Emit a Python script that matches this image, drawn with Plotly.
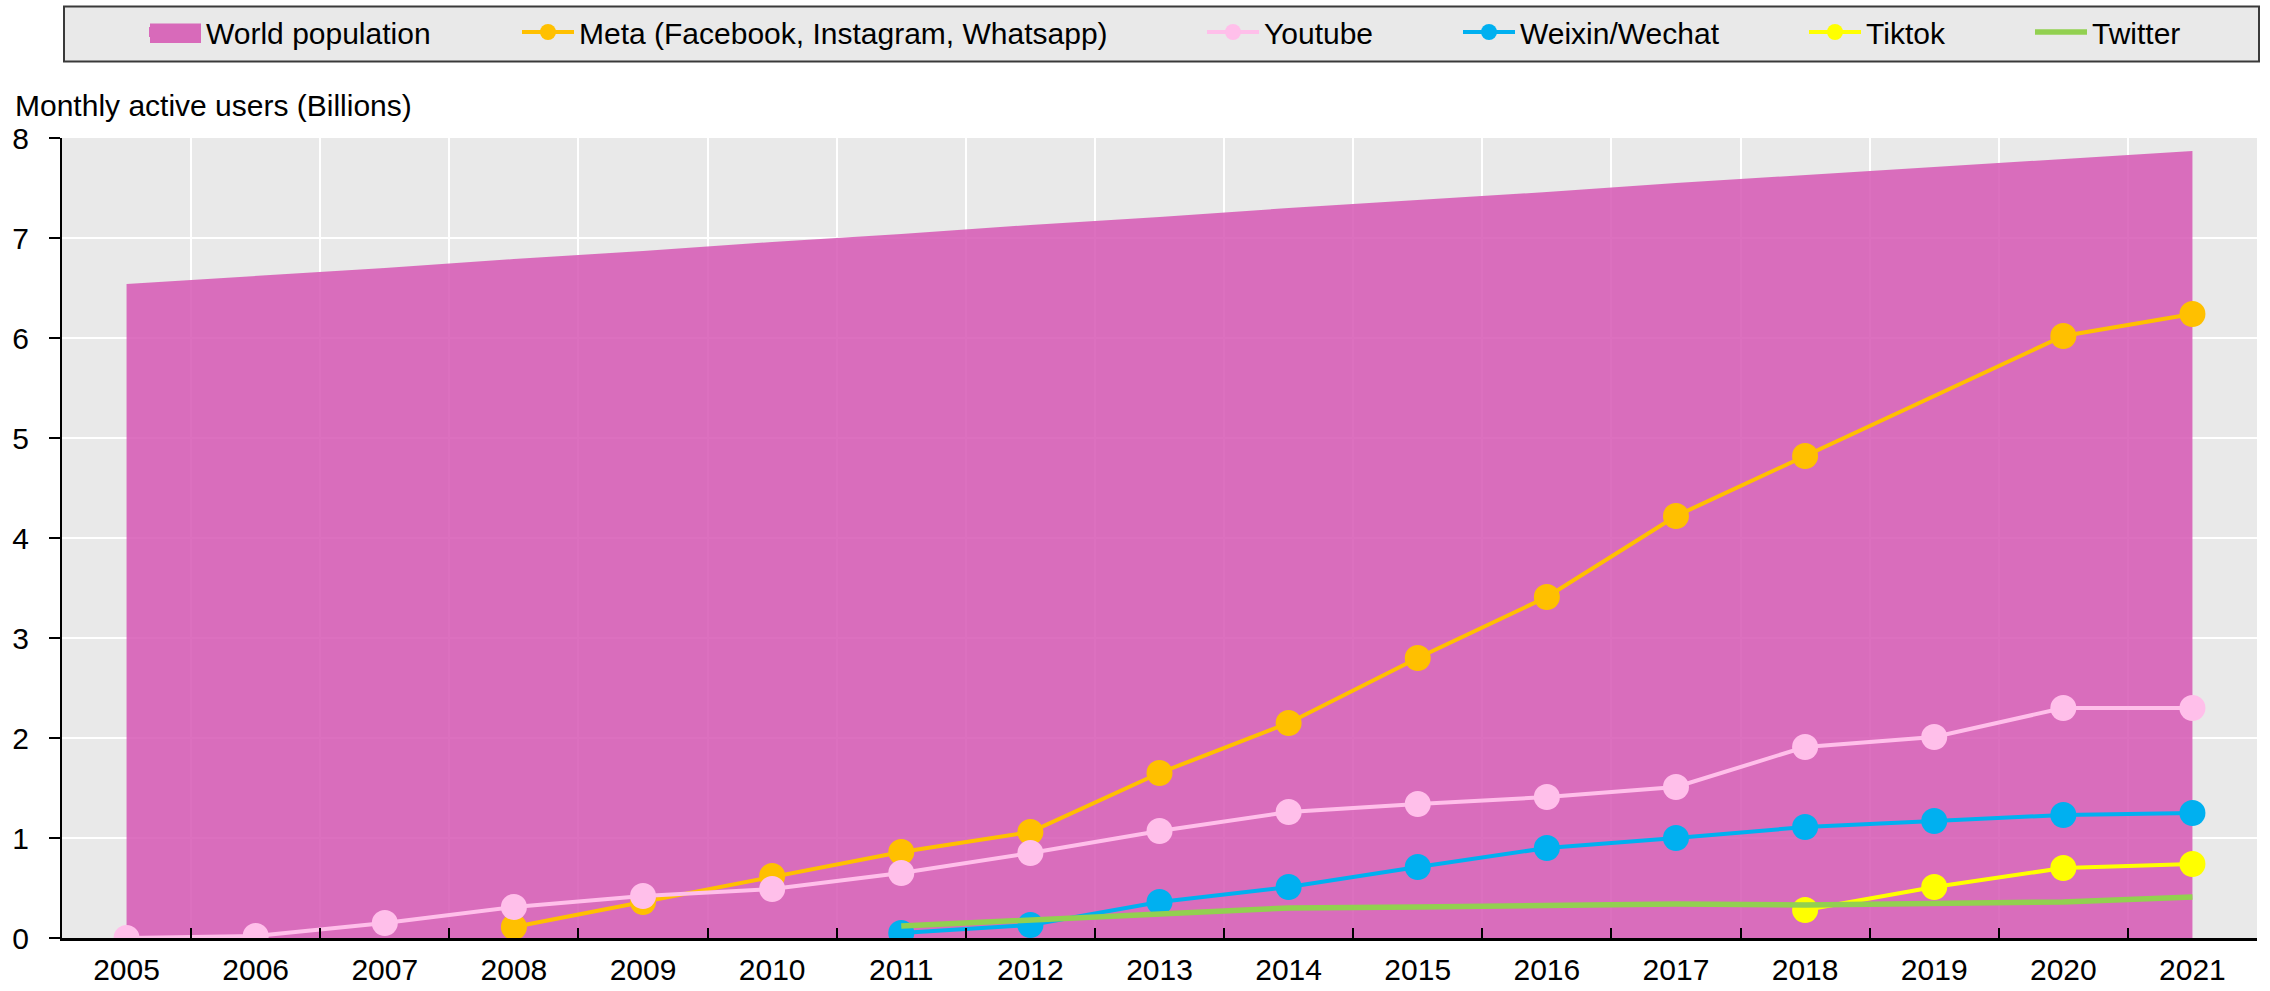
import plotly.graph_objects as go

years = [str(y) for y in range(2005, 2022)]

world_population = [6.54, 6.62, 6.70, 6.79, 6.87, 6.96, 7.04, 7.13, 7.21, 7.30,
                    7.38, 7.46, 7.55, 7.63, 7.71, 7.79, 7.87]
meta = [None, None, None, 0.11, 0.36, 0.62, 0.86, 1.06, 1.65, 2.15,
        2.80, 3.41, 4.22, 4.82, None, 6.02, 6.24]
youtube = [0.0, 0.02, 0.15, 0.31, 0.42, 0.49, 0.65, 0.85, 1.07, 1.26,
           1.34, 1.41, 1.51, 1.91, 2.01, 2.30, 2.30]
wechat = [None] * 6 + [0.05, 0.13, 0.36, 0.51, 0.71, 0.90, 1.00, 1.11, 1.17, 1.23, 1.25]
tiktok = [None] * 13 + [0.28, 0.51, 0.70, 0.74]
twitter = [None] * 6 + [0.12, 0.18, 0.25, 0.30, 0.31, 0.33, 0.34, 0.33, 0.34, 0.36, 0.41]

y_ticks = [0, 1, 2, 3, 4, 5, 6, 7, 8]

FONT = "Liberation Sans, Arial, sans-serif"
FS = 30

PINK_FILL = "rgba(214,88,180,0.86)"
PINK_SOLID = "rgb(216,106,186)"
ORANGE = "#FFC000"
LPINK = "#FFBFEA"
BLUE = "#00B0F0"
YELLOW = "#FFFF00"
GREEN = "#92D050"

fig = go.Figure()

fig.add_trace(go.Scatter(x=years, y=world_population, mode="lines", fill="tozeroy",
                         fillcolor=PINK_FILL, line=dict(width=0, color=PINK_SOLID),
                         showlegend=False, hoverinfo="skip"))
fig.add_trace(go.Scatter(x=[None], y=[None], mode="lines", name="World population",
                         line=dict(width=10, color=PINK_SOLID), legend="legend"))

msize = 26
fig.add_trace(go.Scatter(x=years, y=meta, mode="lines+markers", name="Meta (Facebook, Instagram, Whatsapp)",
                         connectgaps=True, line=dict(color=ORANGE, width=4),
                         marker=dict(size=msize, color=ORANGE), legend="legend2"))
fig.add_trace(go.Scatter(x=years, y=youtube, mode="lines+markers", name="Youtube",
                         line=dict(color=LPINK, width=4),
                         marker=dict(size=msize, color=LPINK), legend="legend3"))
fig.add_trace(go.Scatter(x=years, y=wechat, mode="lines+markers", name="Weixin/Wechat",
                         line=dict(color=BLUE, width=4),
                         marker=dict(size=msize, color=BLUE), legend="legend4"))
fig.add_trace(go.Scatter(x=years, y=tiktok, mode="lines+markers", name="Tiktok",
                         line=dict(color=YELLOW, width=4),
                         marker=dict(size=msize, color=YELLOW), legend="legend5"))
fig.add_trace(go.Scatter(x=years, y=twitter, mode="lines", name="Twitter",
                         line=dict(color=GREEN, width=5.5), legend="legend6"))

L, R, T, B = 62, 13, 138, 53
W = 2270 - L - R
H = 991 - T - B

def px_x(p):
    return (p - L) / W

def px_y(p):
    return (991 - B - p) / H

legend_common = dict(orientation="h", bgcolor="rgba(0,0,0,0)", borderwidth=0,
                     font=dict(family=FONT, size=FS, color="black"),
                     itemwidth=52, xanchor="left", yanchor="middle", y=px_y(32))
text_starts = [206, 579, 1264, 1520, 1866, 2092]
layout_legends = {}
for i, ts in enumerate(text_starts):
    key = "legend" if i == 0 else f"legend{i+1}"
    layout_legends[key] = dict(legend_common, x=px_x(ts - 62))

fig.update_layout(
    width=2270, height=991,
    margin=dict(l=L, r=R, t=T, b=B, autoexpand=False),
    paper_bgcolor="white",
    plot_bgcolor="#E9E9E9",
    font=dict(family=FONT, size=FS, color="black"),
    showlegend=True,
    **layout_legends,
    xaxis=dict(type="category", range=[-0.5, 16.5], tickson="boundaries",
               showgrid=True, gridcolor="white", gridwidth=2,
               showline=True, linecolor="black", linewidth=2.5,
               ticks="inside", ticklen=10, tickwidth=2, tickcolor="black",
               tickfont=dict(family=FONT, size=FS, color="black"),
               ticklabelstandoff=3, zeroline=False, fixedrange=True),
    yaxis=dict(range=[0, 8], tickvals=y_ticks, ticktext=[str(v) for v in y_ticks],
               showgrid=True, gridcolor="white", gridwidth=2,
               showline=True, linecolor="black", linewidth=2,
               ticks="outside", ticklen=11, tickwidth=2, tickcolor="black",
               tickfont=dict(family=FONT, size=FS, color="black"),
               ticklabelstandoff=14, zeroline=False, fixedrange=True),
    shapes=[
        dict(type="rect", xref="paper", yref="paper",
             x0=px_x(64), x1=px_x(2259), y0=px_y(61.5), y1=px_y(6.5),
             fillcolor="#E9E9E9", line=dict(color="#3A3A3A", width=2), layer="above"),
        dict(type="rect", xref="paper", yref="paper",
             x0=px_x(150), x1=px_x(201), y0=px_y(43), y1=px_y(23.5),
             fillcolor=PINK_SOLID, line=dict(width=0), layer="above"),
    ],
    annotations=[dict(text="Monthly active users (Billions)", xref="paper", yref="paper",
                      x=px_x(13), y=px_y(105), xanchor="left", yanchor="middle",
                      showarrow=False, font=dict(family=FONT, size=FS, color="black"))],
)

fig.write_html("out.html", config={"displayModeBar": False},
               post_script="document.body.style.margin='0';document.body.style.overflow='hidden';")
